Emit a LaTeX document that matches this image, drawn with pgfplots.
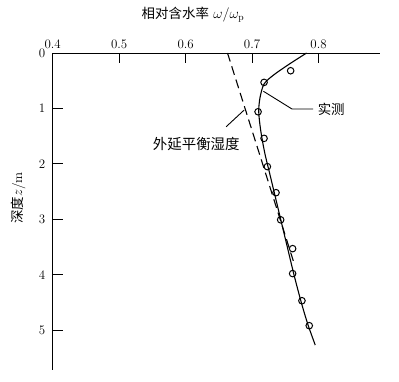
\documentclass[border=0pt]{standalone}
\usepackage{pgfplots}
\pgfplotsset{compat=1.18}
\usepackage{fontspec}
\newfontfamily\cjk{Noto Sans CJK SC}
\begin{document}
\begin{tikzpicture}[x=1bp,y=1bp]
\useasboundingbox (-52.7,53) rectangle (346.3,-329);
\begin{axis}[
  at={(0,0)}, anchor=north west,
  scale only axis, width=327bp, height=317bp,
  xmin=0.4, xmax=0.892, ymin=0, ymax=5.72,
  y dir=reverse,
  axis x line*=top, axis y line*=left,
  axis line style={line width=1pt, -},
  /pgf/number format/assume math mode=true,
  xtick={0.4,0.5,0.6,0.7,0.8},
  ytick={0,1,2,3,4,5},
  xticklabels={0.4,0.5,0.6,0.7,0.8},
  yticklabels={0,1,2,3,4,5},
  xticklabel style={yshift=1bp},
  yticklabel style={xshift=-4bp},
  tick label style={font=\fontsize{13}{15}\selectfont},
  tick align=inside,
  major tick length=10bp,
  tick style={line width=1pt, black},
  clip=false,
]
% measured points
\addplot[only marks, mark=o, mark size=3.3pt, mark options={line width=1pt}] coordinates {
(0.758,0.32) (0.718,0.53) (0.709,1.06) (0.718,1.54) (0.723,2.05)
(0.736,2.52) (0.743,3.01) (0.761,3.53) (0.761,3.98) (0.775,4.47) (0.786,4.92)
};
% fitted curve (measured)
\addplot[smooth, line width=1.1pt] coordinates {
(0.782,0) (0.756,0.2) (0.732,0.4) (0.718,0.56) (0.712,0.8) (0.710,1.06)
(0.713,1.4) (0.719,1.8) (0.727,2.2) (0.735,2.6) (0.743,3.0) (0.753,3.5)
(0.763,4.0) (0.774,4.5) (0.784,4.9) (0.795,5.27)
};
% extrapolated equilibrium moisture
\addplot[line width=1.1pt, dash pattern=on 9pt off 5pt] coordinates {
(0.663,0.0) (0.762,3.75)
};
% leader lines
\addplot[line width=0.9pt] coordinates {(0.717,0.69) (0.760,1.01) (0.792,1.01)};
\addplot[line width=0.9pt] coordinates {(0.661,1.33) (0.688,1.03)};
\node[anchor=west, font=\cjk\fontsize{13.5}{15}\selectfont, inner sep=1bp] at (axis cs:0.797,1.01) {实测};
\node[font=\cjk\fontsize{14.5}{16}\selectfont] at (axis cs:0.616,1.64) {外延平衡湿度};
\end{axis}
\node[font=\fontsize{13.5}{15}\selectfont] at (140.3,38) {{\cjk 相对含水率}\ $\omega/\omega_{\mathrm{p}}$};
\node[rotate=90, font=\fontsize{13.5}{15}\selectfont] at (-34.7,-145) {{\cjk 深度}$z$/m};
\end{tikzpicture}
\end{document}
